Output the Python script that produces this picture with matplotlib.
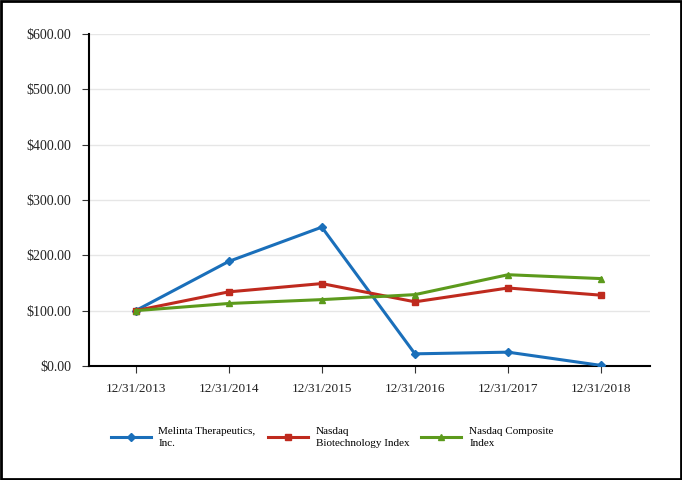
import matplotlib
matplotlib.use("Agg")
import matplotlib.pyplot as plt
from matplotlib.patches import Rectangle

dates = ["12/31/2013", "12/31/2014", "12/31/2015", "12/31/2016", "12/31/2017", "12/31/2018"]
melinta = [100, 189, 251, 22, 25, 1]
nbi = [100, 134, 149, 116, 141, 128]
composite = [100, 113, 120, 129, 165, 158]
yticks = [0, 100, 200, 300, 400, 500, 600]
ytick_labels = ["$0.00", "$100.00", "$200.00", "$300.00", "$400.00", "$500.00", "$600.00"]

plt.rcParams['font.family'] = ['Liberation Serif', 'DejaVu Serif']
fig = plt.figure(figsize=(6.82, 4.8), dpi=100)
ax = fig.add_axes([0.1305, 0.2375, 0.822, 0.6915])

x = list(range(len(dates)))
ax.plot(x, melinta, color='#1a6fba', lw=2.2, marker='D', ms=4, label="Melinta Therapeutics,\nInc.", zorder=3)
ax.plot(x, nbi, color='#bf2a1e', lw=2.2, marker='s', ms=4.5, label="Nasdaq\nBiotechnology Index", zorder=3)
ax.plot(x, composite, color='#5c9a1c', lw=2.2, marker='^', ms=4.5, label="Nasdaq Composite\nIndex", zorder=3)

ax.set_xlim(-0.5, 5.52)
ax.set_ylim(0, 600)
ax.set_yticks(yticks)
ax.set_yticklabels(ytick_labels)
ax.set_xticks(x)
ax.set_xticklabels(dates)
ax.yaxis.grid(True, color='#e6e6e6', lw=1)
ax.set_axisbelow(True)
for s in ['top', 'right']:
    ax.spines[s].set_visible(False)
ax.spines['left'].set_linewidth(1.5)
ax.spines['bottom'].set_linewidth(1.5)
ax.tick_params(axis='y', length=5, width=0.8, labelsize=10, pad=8, colors='#333333')
ax.tick_params(axis='x', length=5, width=0.8, labelsize=9.5, pad=7, colors='#333333')
ax.tick_params(axis='both', labelcolor='#222222')

leg = fig.legend(loc='center', bbox_to_anchor=(0.487, 0.088), ncol=3, frameon=False,
                 fontsize=8, handlelength=3.6, columnspacing=1.1, handletextpad=0.7)
for t in leg.get_texts():
    t.set_linespacing(1.45)

fig.patches.append(Rectangle((0.002, 0.003), 0.996, 0.994, transform=fig.transFigure,
                             fill=False, edgecolor='black', lw=2))
fig.savefig("out.png", dpi=100)
